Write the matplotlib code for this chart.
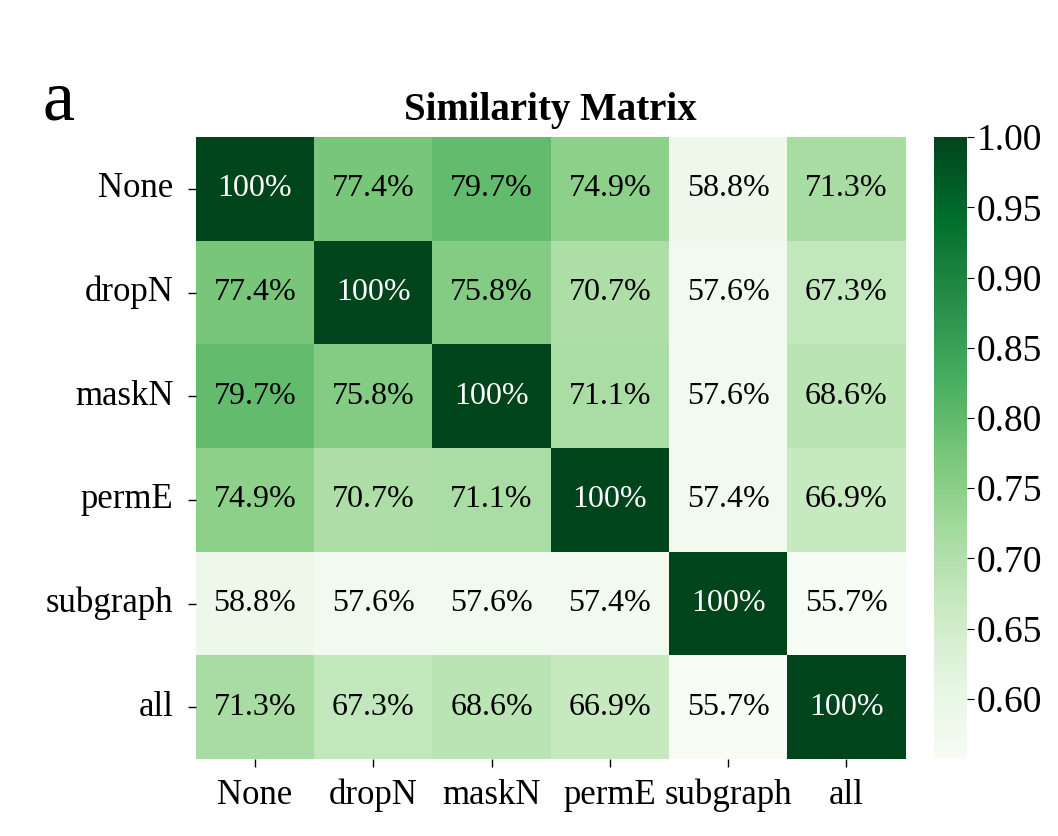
import numpy as np
import matplotlib
matplotlib.use('Agg')
from matplotlib import pyplot as plt
import seaborn as sns

labels = ['None', 'dropN', 'maskN', 'permE', 'subgraph', 'all']
sim = np.array([
    [1.000, 0.774, 0.797, 0.749, 0.588, 0.713],
    [0.774, 1.000, 0.758, 0.707, 0.576, 0.673],
    [0.797, 0.758, 1.000, 0.711, 0.576, 0.686],
    [0.749, 0.707, 0.711, 1.000, 0.574, 0.669],
    [0.588, 0.576, 0.576, 0.574, 1.000, 0.557],
    [0.713, 0.673, 0.686, 0.669, 0.557, 1.000],
])
cbar_ticks = [0.60, 0.65, 0.70, 0.75, 0.80, 0.85, 0.90, 0.95, 1.00]

plt.rcParams['font.family'] = ['Liberation Serif', 'DejaVu Serif']

fig = plt.figure(figsize=(10.58, 8.36), dpi=100)
ax = fig.add_axes([0.185, 0.092, 0.671, 0.744])
cax = fig.add_axes([0.883, 0.092, 0.031, 0.744])

sns.heatmap(sim, ax=ax, cbar_ax=cax, cmap='Greens', vmin=sim.min(), vmax=1.0,
            annot=False, xticklabels=labels, yticklabels=labels,
            cbar_kws={'ticks': cbar_ticks})

# annotations: white only on the diagonal
for i in range(sim.shape[0]):
    for j in range(sim.shape[1]):
        v = sim[i, j]
        if v >= 0.9995:
            txt, col = '100%', 'white'
        else:
            txt, col = '%.1f%%' % (v * 100), 'black'
        ax.text(j + 0.5, i + 0.5, txt, ha='center', va='center', fontsize=23, color=col)

ax.tick_params(axis='y', labelsize=25, length=6, width=1, pad=10)
ax.tick_params(axis='x', labelsize=25, length=6, width=1, pad=8)
ax.set_yticklabels(labels, rotation=0)
ax.set_xticklabels(labels, rotation=0)
ax.set_title('Similarity Matrix', fontsize=28, fontweight='bold', pad=12)

cax.tick_params(labelsize=27, length=5, pad=2)
cax.set_yticklabels(['%.2f' % t for t in cbar_ticks])

fig.text(0.04, 0.857, 'a', fontsize=52)

plt.savefig('out.png', dpi=100)
